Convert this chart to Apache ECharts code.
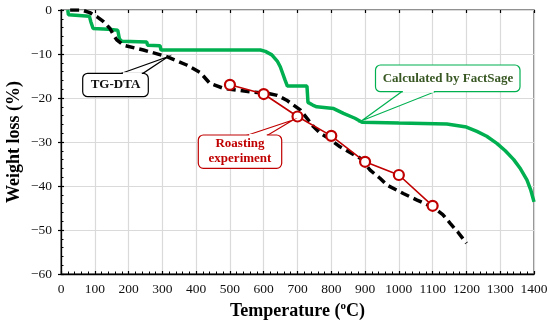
<!DOCTYPE html>
<html>
<head>
<meta charset="utf-8">
<script src="https://cdn.jsdelivr.net/npm/echarts@6/dist/echarts.min.js"></script>
<style>html,body{margin:0;padding:0;background:#fff}#c{width:550px;height:324px}</style>
</head>
<body>
<div id="c"></div>
<script>
// Calculated by FactSage (temperature °C, weight loss %)
var factSage = [[20,0],[22,-1.1],[84,-1.4],[88,-2.6],[95,-4.2],[140,-4.4],[168,-4.6],[173,-6.6],[180,-7.1],[254,-7.3],[256,-8.0],[293,-8.1],[296,-9.1],[590,-9.1],[605,-9.4],[624,-10.2],[640,-11.6],[649,-12.9],[663,-15.9],[670,-17.3],[728,-17.3],[731,-21.0],[745,-21.6],[757,-22.0],[807,-22.4],[836,-23.5],[870,-24.6],[891,-25.5],[1000,-25.7],[1142,-25.9],[1200,-26.6],[1231,-27.6],[1260,-28.7],[1290,-30.3],[1315,-32.0],[1340,-34.0],[1360,-36.1],[1379,-38.6],[1390,-40.8],[1400,-43.6]];
// TG-DTA
var tgDta = [[27,0],[61,0],[85,-0.6],[106,-1.5],[125,-2.6],[145,-4.2],[155,-5.6],[165,-6.8],[185,-8.0],[244,-9.1],[313,-10.6],[372,-12.5],[412,-14.2],[441,-16.7],[481,-17.8],[560,-18.6],[609,-18.9],[640,-19.4],[668,-20.5],[708,-22.7],[730,-24.8],[747,-26.5],[767,-28.0],[787,-28.9],[826,-31.1],[886,-33.7],[900,-35.0],[915,-36.4],[945,-38.3],[965,-39.8],[1013,-41.7],[1054,-43.2],[1103,-44.9],[1130,-46.5],[1152,-48.5],[1175,-50.5],[1200,-53.0]];
// Roasting experiment
var roastTemp = [500,600,700,800,900,1000,1100];
var roastLoss = [-17.0,-19.1,-24.2,-28.6,-34.5,-37.5,-44.5];

var FONT = '"Liberation Serif","Times New Roman",serif';

// callout: rounded box + wedge pointer (annotation graphics, pixel space)
function callout(x,y,w,h,edge,a,b,tx,ty,color){
  var ey = edge==='top' ? y : y+h;
  return [
    {type:'polygon',shape:{points:[[a,ey],[tx,ty],[b,ey]]},style:{fill:'#fff',stroke:color,lineWidth:1.2},z:100},
    {type:'rect',shape:{x:x,y:y,width:w,height:h,r:5},style:{fill:'#fff',stroke:color,lineWidth:1.2},z:101},
    {type:'line',shape:{x1:a+1.2,y1:ey,x2:b-1.2,y2:ey},style:{stroke:'#fff',lineWidth:2.2},z:102}
  ];
}

var graphics = []
  .concat(callout(82.7,73.3,65.6,23.4,'top',121.7,143,168,56.7,'#000'))
  .concat(callout(198.3,135,83.4,33.3,'top',248,268,293,120,'#c00000'))
  .concat(callout(375.5,65,144.5,26.7,'bottom',401.7,435,361.7,120.7,'#00b050'))
  .concat([
    {type:'text',x:115.5,y:85,style:{text:'TG-DTA',font:'bold 13px '+FONT,fill:'#111',align:'center',verticalAlign:'middle'},z:103},
    {type:'text',x:240,y:151.5,style:{text:'Roasting\nexperiment',lineHeight:15,font:'bold 13px '+FONT,fill:'#c00000',align:'center',verticalAlign:'middle'},z:103},
    {type:'text',x:448,y:78.5,style:{text:'Calculated by FactSage',font:'bold 13px '+FONT,fill:'#385723',align:'center',verticalAlign:'middle'},z:103}
  ]);

var chart = echarts.init(document.getElementById('c'), null, {renderer:'canvas'});
var axisLbl = {color:'#111', fontFamily:FONT, fontSize:13.5};
chart.setOption({
  animation:false,
  grid:{left:61,right:16,top:10,bottom:50,show:true,borderColor:'#6e6e6e',borderWidth:1.5,backgroundColor:'#fff',containLabel:false,outerBoundsMode:'none'},
  xAxis:[{
    type:'value',min:0,max:1400,interval:100,
    axisLine:{onZero:false,lineStyle:{color:'#000',width:1.3}},
    axisTick:{inside:true,length:3,lineStyle:{color:'#000',width:1.2}},
    minorTick:{show:true,splitNumber:5,length:2.5,lineStyle:{color:'#000',width:1}},
    splitLine:{show:true,lineStyle:{color:'#dadada',width:1.2}},
    axisLabel:Object.assign({margin:8,formatter:function(v){return ''+v;}},axisLbl),
    name:'{a|Temperature (}{s|o}{a|C)}',nameLocation:'middle',nameGap:19,
    nameTextStyle:{rich:{a:{fontFamily:FONT,fontSize:18,fontWeight:'bold',color:'#000'},s:{fontFamily:FONT,fontSize:11,fontWeight:'bold',color:'#000',padding:[0,0,9,0]}}}
  },{
    type:'value',min:0,max:1400,interval:100,position:'bottom',
    axisLine:{show:false},axisLabel:{show:false},splitLine:{show:false},
    axisTick:{inside:false,length:3,lineStyle:{color:'#000',width:1.2}}
  }],
  yAxis:[{
    type:'value',min:-60,max:0,interval:10,
    axisLine:{onZero:false,lineStyle:{color:'#000',width:1.3}},
    axisTick:{inside:true,length:3,lineStyle:{color:'#000',width:1.2}},
    minorTick:{show:true,splitNumber:5,length:2.5,lineStyle:{color:'#000',width:1}},
    splitLine:{show:true,lineStyle:{color:'#dadada',width:1.2}},
    axisLabel:Object.assign({margin:9,formatter:function(v){return v<0?'\u2212'+(-v):''+v;}},axisLbl),
    name:'Weight loss (%)',nameLocation:'middle',nameGap:38,nameMoveOverlap:false,
    nameTextStyle:{fontFamily:FONT,fontSize:18,fontWeight:'bold',color:'#000'}
  },{
    type:'value',min:-60,max:0,interval:10,position:'left',
    axisLine:{show:false},axisLabel:{show:false},splitLine:{show:false},
    axisTick:{inside:false,length:3,lineStyle:{color:'#000',width:1.2}}
  }],
  series:[
    {type:'line',name:'FactSage',data:factSage,showSymbol:false,symbol:'none',
     lineStyle:{color:'#00b050',width:3.5},z:3},
    {type:'line',name:'TG-DTA',data:tgDta,showSymbol:false,symbol:'none',
     lineStyle:{color:'#000',width:3.5,type:[9,5]},z:4},
    {type:'line',name:'Roasting',data:roastTemp.map(function(t,i){return [t,roastLoss[i]];}),
     symbol:'circle',symbolSize:10,
     itemStyle:{color:'#fff',borderColor:'#c00000',borderWidth:2.2},
     lineStyle:{color:'#c00000',width:1.6},z:5}
  ],
  graphic:graphics
});
</script>
</body>
</html>
